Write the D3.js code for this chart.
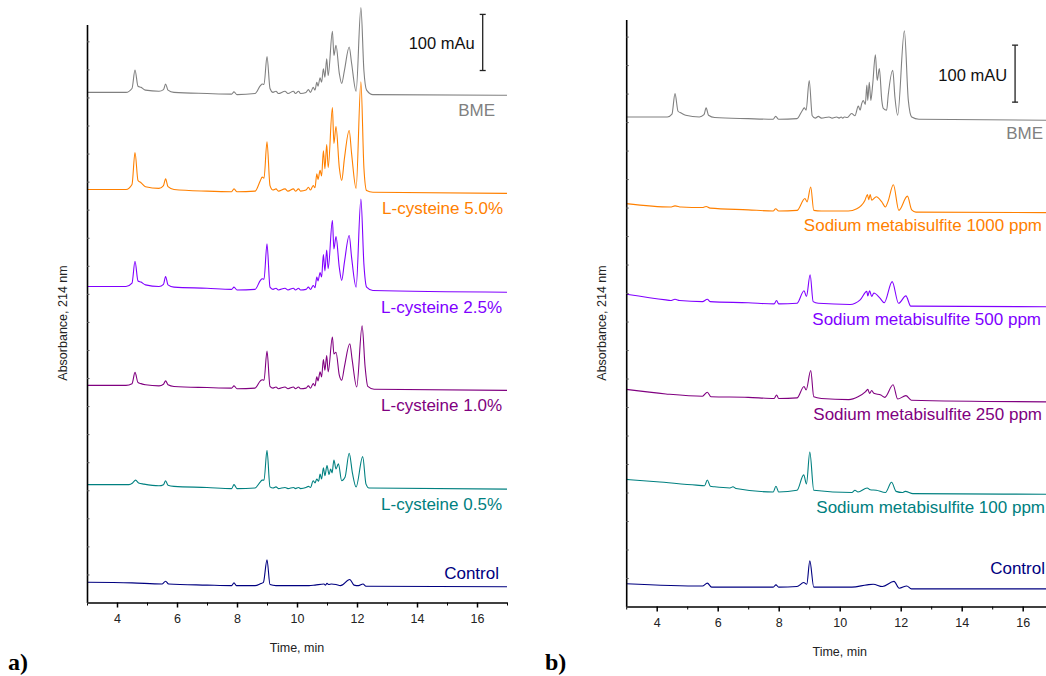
<!DOCTYPE html>
<html>
<head>
<meta charset="utf-8">
<script src="https://cdn.jsdelivr.net/npm/d3@7"></script>
<style>
  body { margin: 0; background: #fff; }
  text { font-family: "Liberation Sans", Arial, sans-serif; }
</style>
</head>
<body>
<div id="chart"></div>
<script>
// x axis ticks (min)
const majorTicks = [4, 6, 8, 10, 12, 14, 16];
const minorTicks = [3, 5, 7, 9, 11, 13, 15, 17];

// ---- panel a) : L-cysteine ----
const namesA = ["BME", "L-cysteine 5.0%", "L-cysteine 2.5%", "L-cysteine 1.0%", "L-cysteine 0.5%", "Control"];
const offsetsA = [909, 736, 563, 387, 210, 36];   // mAU, stacking offset of each trace

// [time min, mAU above trace baseline]
const bmeA = [[3,0],[4.3,0],[4.5,7],[4.6,40],[4.7,11],[4.8,9],[4.95,4],[5.4,2],[5.55,5],[5.62,15],[5.7,4],[5.9,0],[7.0,-2],[7.82,-3],[7.9,1],[8.0,-4],[8.6,-2],[8.78,12],[8.84,15],[8.9,14],[9.0,64],[9.1,7],[9.2,0],[9.3,2],[9.38,-2],[9.6,2],[9.7,-2],[9.88,2],[9.95,-2],[10.05,2],[10.12,-2],[10.3,0],[10.38,5],[10.45,0],[10.54,9],[10.6,4],[10.66,18],[10.7,11],[10.77,26],[10.82,18],[10.88,42],[10.93,27],[10.99,60],[11.04,30],[11.18,109],[11.23,66],[11.3,84],[11.41,34],[11.49,16],[11.58,39],[11.74,81],[11.82,52],[11.97,2],[12.13,151],[12.23,39],[12.32,4],[12.53,-4],[17,-5]];
const cys50 = [[3,0],[4.3,0],[4.5,9],[4.6,66],[4.7,16],[4.8,12],[4.95,5],[5.4,2],[5.55,7],[5.62,19],[5.7,5],[5.9,0],[7.0,-3],[7.82,-4],[7.9,1],[8.0,-4],[8.6,-3],[8.78,16],[8.84,22],[8.9,20],[9.0,85],[9.1,7],[9.2,-1],[9.3,1],[9.38,-3],[9.6,1],[9.7,-3],[9.88,1],[9.95,-3],[10.05,1],[10.12,-3],[10.3,-1],[10.38,4],[10.45,-1],[10.54,7],[10.6,3],[10.66,28],[10.7,18],[10.77,34],[10.82,24],[10.88,69],[10.93,37],[10.99,80],[11.04,39],[11.18,146],[11.23,82],[11.3,112],[11.41,39],[11.49,16],[11.58,55],[11.74,105],[11.82,64],[11.97,2],[12.13,192],[12.23,39],[12.32,-2],[12.53,-5],[17,-7]];
const cys25 = [[3,0],[4.3,0],[4.5,6],[4.6,45],[4.7,10],[4.8,8],[4.95,3],[5.4,0],[5.55,4],[5.62,18],[5.7,3],[5.9,-1],[7.0,-3],[7.82,-5],[7.9,-1],[8.0,-6],[8.6,-5],[8.78,11],[8.84,14],[8.9,13],[9.0,76],[9.1,-1],[9.2,-5],[9.3,-3],[9.38,-6],[9.6,-3],[9.7,-6],[9.88,-3],[9.95,-6],[10.05,-3],[10.12,-6],[10.3,-5],[10.38,-1],[10.45,-5],[10.54,2],[10.6,-2],[10.66,17],[10.7,10],[10.77,25],[10.82,17],[10.88,57],[10.93,28],[10.99,65],[11.04,32],[11.18,118],[11.23,67],[11.3,89],[11.41,34],[11.49,11],[11.58,43],[11.74,91],[11.82,52],[11.97,-1],[12.13,156],[12.23,40],[12.32,-1],[12.53,-7],[17,-10]];
const cys10 = [[3,0],[4.3,0],[4.5,3],[4.6,23],[4.7,5],[4.8,3],[4.95,1],[5.4,-1],[5.55,2],[5.62,8],[5.7,1],[5.9,-2],[7.0,-4],[7.82,-5],[7.9,-1],[8.0,-6],[8.6,-5],[8.78,8],[8.84,10],[8.9,9],[9.0,61],[9.1,-2],[9.2,-5],[9.3,-3],[9.38,-6],[9.6,-3],[9.7,-6],[9.88,-3],[9.95,-6],[10.05,-3],[10.12,-6],[10.3,-5],[10.38,-1],[10.45,-5],[10.54,3],[10.6,-1],[10.66,15],[10.7,8],[10.77,24],[10.82,15],[10.88,46],[10.93,27],[10.99,53],[11.04,24],[11.18,86],[11.23,56],[11.3,59],[11.41,18],[11.49,9],[11.58,33],[11.76,74],[11.84,45],[11.99,-3],[12.17,106],[12.27,33],[12.36,-2],[12.57,-7],[17,-9]];
const cys05 = [[3,0],[4.4,0],[4.52,3],[4.62,8],[4.72,3],[4.9,1],[5.4,-2],[5.55,0],[5.62,7],[5.7,-1],[5.9,-3],[7.0,-5],[7.82,-7],[7.9,0],[8.0,-7],[8.6,-6],[8.78,5],[8.84,8],[8.9,8],[9.0,61],[9.1,-4],[9.2,-6],[9.3,-4],[9.38,-7],[9.6,-5],[9.7,-7],[9.88,-5],[9.95,-7],[10.05,-5],[10.12,-7],[10.3,-5],[10.38,-3],[10.45,-5],[10.54,7],[10.6,3],[10.66,10],[10.72,6],[10.77,19],[10.82,10],[10.88,30],[10.93,16],[11.0,34],[11.07,18],[11.12,28],[11.17,21],[11.23,44],[11.3,28],[11.38,37],[11.49,7],[11.6,13],[11.74,56],[11.85,20],[11.97,-4],[12.19,50],[12.3,1],[12.4,-6],[17,-8]];
const controlA = [[3,0],[4.5,-1],[5.5,-3],[5.62,2],[5.72,-3],[7.0,-5],[7.82,-6],[7.9,-1],[7.98,-6],[8.6,-6],[8.8,-2],[8.88,0],[9.0,40],[9.1,-4],[9.3,-6],[10.4,-6],[10.6,-5],[10.9,-3],[10.95,-5],[11.0,-2],[11.05,-4],[11.15,-3],[11.3,-4],[11.45,-6],[11.76,5],[11.9,-5],[12.05,-6],[12.2,-3],[12.3,-7],[17,-8]];

// ---- panel b) : sodium metabisulfite ----
const namesB = ["BME", "Sodium metabisulfite 1000 ppm", "Sodium metabisulfite 500 ppm", "Sodium metabisulfite 250 ppm", "Sodium metabisulfite 100 ppm", "Control"];
const offsetsB = [859, 707, 548, 381, 223, 40];

const bmeB = [[3,0],[4.35,0],[4.5,5],[4.6,41],[4.7,10],[4.8,7],[4.95,3],[5.4,0],[5.55,4],[5.62,16],[5.7,3],[5.9,-1],[7.0,-3],[7.82,-4],[7.9,1],[8.0,-4],[8.6,-3],[8.76,10],[8.84,16],[8.9,12],[9.0,64],[9.1,2],[9.2,-2],[9.3,1],[9.4,-2],[9.65,0],[9.75,-2],[9.9,0],[9.98,-2],[10.05,0],[10.1,-2],[10.15,0],[10.25,-1],[10.39,6],[10.5,2],[10.61,19],[10.67,12],[10.72,23],[10.77,29],[10.84,22],[10.89,56],[10.92,29],[10.97,61],[11.02,29],[11.08,56],[11.17,109],[11.23,64],[11.3,85],[11.38,29],[11.43,15],[11.54,12],[11.59,38],[11.74,82],[11.81,35],[11.9,3],[12.12,151],[12.25,29],[12.36,0],[12.6,-4],[17,-6]];
const smb1000 = [[3,0],[4.45,-6],[4.6,-4],[4.8,-6],[5.5,-7],[5.62,-5],[5.75,-8],[7.0,-11],[7.82,-13],[7.9,-9],[8.0,-13],[8.6,-12],[8.86,9],[8.93,3],[9.05,29],[9.15,-12],[9.4,-13],[10.28,-13],[10.56,-9],[10.83,6],[10.91,16],[10.95,7],[11.0,16],[11.05,6],[11.2,12],[11.38,3],[11.5,-6],[11.58,3],[11.76,33],[11.94,-12],[12.22,13],[12.36,-11],[12.5,-15],[17,-16]];
const smb500 = [[3,0],[4.3,-10],[4.45,-11],[4.6,-9],[4.75,-11],[5.5,-13],[5.66,-9],[5.75,-13],[7.0,-15],[7.85,-17],[7.93,-11],[8.0,-17],[8.6,-16],[8.83,6],[8.91,-4],[9.03,34],[9.13,-13],[9.3,-16],[10.34,-18],[10.67,-10],[10.89,5],[10.92,-3],[10.98,6],[11.05,-4],[11.12,2],[11.32,-7],[11.46,-15],[11.72,22],[11.93,-16],[12.17,-3],[12.33,-21],[17,-22]];
const smb250 = [[3,0],[4.3,-8],[5.5,-12],[5.66,-5],[5.78,-13],[7.0,-14],[7.85,-16],[7.93,-10],[8.0,-16],[8.6,-15],[8.83,5],[8.9,-1],[9.05,33],[9.15,-13],[9.4,-16],[10.3,-18],[10.6,-13],[10.85,-4],[10.92,0],[10.98,-7],[11.05,-2],[11.12,-7],[11.35,-10],[11.48,-14],[11.75,8],[11.9,-17],[12.17,-11],[12.35,-19],[17,-22]];
const smb100 = [[3,0],[4.0,-4],[5.3,-10],[5.57,-11],[5.66,-1],[5.76,-12],[5.9,-13],[6.4,-15],[6.5,-13],[6.6,-16],[7.82,-22],[7.91,-12],[8.0,-22],[8.6,-19],[8.82,8],[8.91,-8],[9.02,48],[9.15,-19],[10.4,-23],[10.5,-19],[10.6,-22],[10.9,-15],[11.0,-18],[11.2,-19],[11.5,-23],[11.7,-5],[11.85,-21],[12.05,-23],[12.15,-21],[12.4,-25],[17,-26]];
const controlB = [[3,0],[5.5,-4],[5.66,1],[5.8,-6],[7.82,-6],[7.91,-2],[8.0,-6],[8.6,-5],[8.82,2],[8.92,-1],[9.02,40],[9.15,-6],[10.4,-6],[10.9,-2],[11.1,-1],[11.4,-5],[11.78,4],[11.95,-8],[12.2,-4],[12.35,-9],[17,-9]];

const scaleBarValue = 100; // mAU

const traceColors = ["#808080", "#ff8000", "#8000ff", "#800080", "#008080", "#000080"];

const svg = d3.select("#chart").append("svg")
  .attr("width", 1046).attr("height", 676);

function drawPanel(opt) {
  const x = d3.scaleLinear().domain([3, 17]).range(opt.xr);
  const y = d3.scaleLinear().domain([0, 1030]).range(opt.yr);
  const g = svg.append("g");

  // traces
  const line = d3.line().curve(d3.curveMonotoneX);
  opt.traces.forEach((tr, i) => {
    line.x(d => x(d[0])).y(d => y(opt.offsets[i] + d[1]));
    g.append("path")
      .attr("d", line(tr))
      .attr("fill", "none")
      .attr("stroke", traceColors[i])
      .attr("stroke-width", 1.1);

    const last = tr[tr.length - 1];
    const isControl = i === opt.traces.length - 1;
    g.append("text")
      .attr("x", opt.labelX + (opt.labelNudge[i] || 0))
      .attr("y", y(opt.offsets[i] + last[1]) + (isControl ? opt.controlGap : opt.labelGap))
      .attr("text-anchor", "end")
      .attr("dominant-baseline", "central")
      .attr("font-size", "17px")
      .attr("fill", traceColors[i])
      .text(opt.names[i]);
  });

  // x axis: minor + major ticks
  g.append("g")
    .attr("transform", "translate(0," + opt.yr[0] + ")")
    .call(d3.axisBottom(x).tickValues(minorTicks).tickSize(3).tickSizeOuter(0).tickFormat(""))
    .call(a => a.select(".domain").attr("stroke-width", 1.6));
  const xa = g.append("g")
    .attr("transform", "translate(0," + opt.yr[0] + ")")
    .call(d3.axisBottom(x).tickValues(majorTicks).tickSize(5).tickSizeOuter(0).tickPadding(7));
  xa.select(".domain").remove();
  xa.selectAll("line").attr("stroke-width", 1.5);
  xa.selectAll("text").attr("font-size", "12.5px").style("font-family", "'Liberation Sans', Arial, sans-serif").attr("fill", "#222");

  // y axis, no labels, tiny inward ticks
  g.append("g")
    .attr("transform", "translate(" + opt.xr[0] + ",0)")
    .call(d3.axisLeft(y).tickValues(d3.range(0, 1031, 50)).tickSizeInner(-2.5).tickSizeOuter(0).tickFormat(""))
    .call(a => a.select(".domain").attr("stroke-width", 1.6))
    .call(a => a.selectAll(".tick line").attr("stroke", "#555"));

  // axis titles
  g.append("text")
    .attr("x", x(10)).attr("y", opt.yr[0] + 45)
    .attr("text-anchor", "middle").attr("dominant-baseline", "central")
    .attr("font-size", "12.5px").attr("fill", "#222")
    .text("Time, min");
  g.append("text")
    .attr("transform", "translate(" + (opt.xr[0] - 24) + "," + 323 + ") rotate(-90)")
    .attr("text-anchor", "middle").attr("dominant-baseline", "central")
    .attr("font-size", "12.5px").attr("fill", "#222")
    .text("Absorbance, 214 nm");

  // 100 mAU scale bar
  const bx = x(opt.bar.t), b0 = y(opt.bar.base), b1 = y(opt.bar.base + scaleBarValue);
  g.append("line").attr("x1", bx).attr("x2", bx).attr("y1", b0).attr("y2", b1)
    .attr("stroke", "#222").attr("stroke-width", 1.3);
  [b0, b1].forEach(v => g.append("line")
    .attr("x1", bx - 3).attr("x2", bx + 3).attr("y1", v).attr("y2", v)
    .attr("stroke", "#222").attr("stroke-width", 1.3));
  g.append("text")
    .attr("x", bx - 8).attr("y", (b0 + b1) / 2 + 1)
    .attr("text-anchor", "end").attr("dominant-baseline", "central")
    .attr("font-size", "16.5px").attr("fill", "#111")
    .text(opt.bar.label);

  // panel letter (bold serif)
  svg.append("text")
    .attr("x", opt.letterX).attr("y", 670)
    .style("font-family", "'Liberation Serif', 'Times New Roman', serif")
    .attr("font-weight", "bold").attr("font-size", "24px")
    .text(opt.letter);
}

drawPanel({
  xr: [87, 507], yr: [602.5, 24.5],
  traces: [bmeA, cys50, cys25, cys10, cys05, controlA],
  offsets: offsetsA, names: namesA,
  labelX: 502, labelNudge: [-7, 1, 0, 0, 0, -3], labelGap: 15, controlGap: -13,
  bar: { t: 16.19, base: 948, label: "100 mAu" },
  letter: "a)", letterX: 8
});

drawPanel({
  xr: [626.2, 1053.2], yr: [606.5, 19.5],
  traces: [bmeB, smb1000, smb500, smb250, smb100, controlB],
  offsets: offsetsB, names: namesB,
  labelX: 1042, labelNudge: [1, 0, -1, 0, 3, 3], labelGap: 13, controlGap: -20,
  bar: { t: 15.75, base: 885, label: "100 mAU" },
  letter: "b)", letterX: 545
});
</script>
</body>
</html>
